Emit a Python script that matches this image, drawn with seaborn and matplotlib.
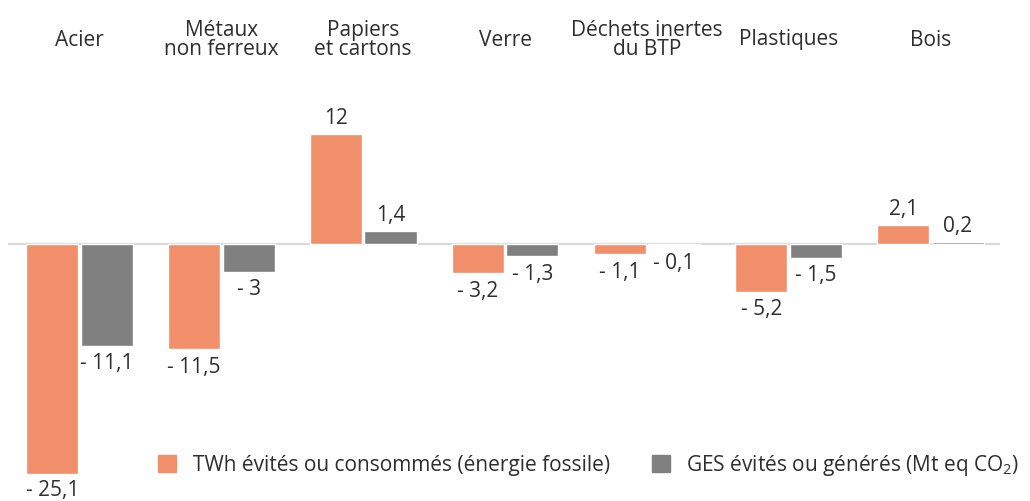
import matplotlib
matplotlib.use("Agg")
import matplotlib.pyplot as plt
import matplotlib.patches as mpatches
import matplotlib.transforms as mtransforms
import seaborn as sns
import pandas as pd

categories = ["Acier", "Métaux\nnon ferreux", "Papiers\net cartons", "Verre",
              "Déchets inertes\ndu BTP", "Plastiques", "Bois"]
twh_values = [-25.1, -11.5, 12, -3.2, -1.1, -5.2, 2.1]
ges_values = [-11.1, -3, 1.4, -1.3, -0.1, -1.5, 0.2]
series_names = ["TWh évités ou consommés (énergie fossile)",
                "GES évités ou générés (Mt eq CO$_2$)"]
colors = ["#F28F6B", "#808080"]

sns.set_theme(style="white")
plt.rcParams["font.family"] = ["Open Sans", "DejaVu Sans"]
plt.rcParams["mathtext.fontset"] = "custom"
plt.rcParams["mathtext.rm"] = "Open Sans"
plt.rcParams["mathtext.it"] = "Open Sans"
text_color = "#2e2e2e"
fs = 15

df = pd.DataFrame({
    "categorie": categories * 2,
    "valeur": twh_values + ges_values,
    "serie": [series_names[0]] * len(categories) + [series_names[1]] * len(categories),
})

fig = plt.figure(figsize=(10.30, 5.02), dpi=100)
ax = fig.add_axes([8 / 1030, 0, 992 / 1030, 1])

ax.axhline(0, color="#d9d9d9", lw=1.6, zorder=0)
sns.barplot(data=df, x="categorie", y="valeur", hue="serie", palette=colors,
            saturation=1, width=0.77, gap=0.045, legend=False, ax=ax, zorder=2)

ax.set_xlim(-0.505, 6.49)
ax.set_ylim(-28.03, 26.72)
ax.set_axis_off()


def fmt(v):
    s = f"{abs(v):g}".replace(".", ",")
    return f"- {s}" if v < 0 else s


lowest = min(twh_values + ges_values)
for cont, vals in zip(ax.containers, [twh_values, ges_values]):
    anns = ax.bar_label(cont, labels=[fmt(v) for v in vals], padding=4.3,
                        fontsize=fs, color=text_color)
    # negative values: place the label baseline a fixed distance under the bar
    for ann, v in zip(anns, vals):
        if v < 0:
            ann.set_verticalalignment("baseline")
            ann.xyann = (0, -15 if v == lowest else -16.3)

trans = mtransforms.blended_transform_factory(ax.transData, ax.transAxes)
for i, cat in enumerate(categories):
    ax.text(i, 1 - 40 / 502, cat, transform=trans, ha="center", va="center",
            fontsize=fs, color=text_color, linespacing=0.82)

handles = [mpatches.Patch(color=c, label=n) for c, n in zip(colors, series_names)]
leg = ax.legend(handles=handles, ncol=2, frameon=False, fontsize=fs,
                loc="center right", bbox_to_anchor=(1028 / 992 - 8 / 992, 36 / 502),
                bbox_transform=ax.transAxes,
                handlelength=0.87, handleheight=0.87, handletextpad=0.8,
                columnspacing=2.0, borderaxespad=0)
for t in leg.get_texts():
    t.set_color(text_color)

fig.savefig("out.png", dpi=100)
